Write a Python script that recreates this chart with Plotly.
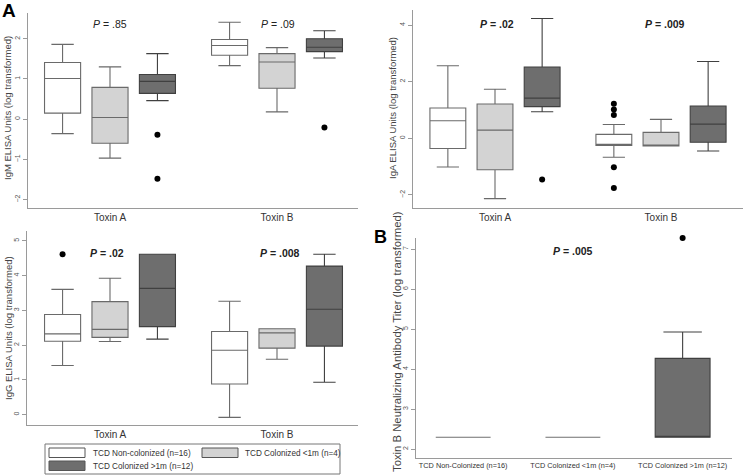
import plotly.graph_objects as go

W, H = 745, 476

# ---------------- data ----------------
toxins = ["Toxin A", "Toxin B"]
groups = ["TCD Non-colonized (n=16)", "TCD Colonized <1m (n=4)", "TCD Colonized >1m (n=12)"]
nab_groups = ["TCD Non-Colonized (n=16)", "TCD Colonized <1m (n=4)", "TCD Colonized >1m (n=12)"]

# IgM (per group: [Toxin A, Toxin B])
igm_lo = [[-0.36, 1.33], [-0.97, 0.18], [0.46, 1.52]]
igm_q1 = [[0.15, 1.59], [-0.60, 0.77], [0.64, 1.68]]
igm_med = [[1.01, 1.83], [0.04, 1.42], [0.94, 1.79]]
igm_q3 = [[1.41, 1.98], [0.79, 1.63], [1.11, 2.00]]
igm_hi = [[1.86, 2.41], [1.30, 1.78], [1.63, 2.20]]
igm_out = [[[], []], [[], []], [[-0.39, -1.48], [-0.21]]]

# IgA
iga_lo = [[-1.01, -0.67], [-2.13, -0.27], [0.94, -0.45]]
iga_q1 = [[-0.36, -0.25], [-1.11, -0.27], [1.12, -0.14]]
iga_med = [[0.62, -0.25], [0.29, -0.26], [1.42, 0.50]]
iga_q3 = [[1.07, 0.14], [1.21, 0.21], [2.52, 1.14]]
iga_hi = [[2.56, 0.49], [1.73, 0.67], [4.23, 2.71]]
iga_out = [[[], [1.22, 1.02, 0.82, -1.02, -1.75]], [[], []], [[-1.45], []]]

# IgG
igg_lo = [[1.41, -0.08], [2.10, 1.59], [2.17, 0.93]]
igg_q1 = [[2.11, 0.88], [2.22, 1.91], [2.53, 1.97]]
igg_med = [[2.32, 1.85], [2.45, 2.35], [3.63, 3.03]]
igg_q3 = [[2.88, 2.39], [3.25, 2.47], [4.61, 4.27]]
igg_hi = [[3.60, 3.26], [3.92, 2.47], [4.61, 4.61]]
igg_out = [[[4.61], []], [[], []], [[], []]]

# Toxin B neutralizing antibody titer (per group)
nab_lo = [2.30, 2.30, 2.30]
nab_q1 = [2.30, 2.30, 2.30]
nab_med = [2.30, 2.30, 2.30]
nab_q3 = [2.30, 2.30, 4.27]
nab_hi = [2.30, 2.30, 4.93]
nab_out = [[], [], [7.28]]

p_igm = ["<i>P</i> = .85", "<i>P</i> = .09"]
p_iga = ["<b><i>P</i> = .02</b>", "<b><i>P</i> = .009</b>"]
p_igg = ["<b><i>P</i> = .02</b>", "<b><i>P</i> = .008</b>"]
p_nab = "<b><i>P</i> = .005</b>"

# ---------------- styles ----------------
FONT = "Liberation Sans, Arial, sans-serif"
fills = ["#ffffff", "#d3d3d3", "#6e6e6e"]
lines = ["#6a6a6a", "#6a6a6a", "#404040"]
AX = "#9a9a9a"


def px(x):
    return x / W


def py(y):
    return 1 - y / H


fig = go.Figure()

offsets = [-0.284, 0.0, 0.284]


def add_panel(xa, ya, lo, q1, med, q3, hi, outs):
    for g in range(3):
        xs = [i + offsets[g] for i in range(len(toxins))]
        fig.add_trace(go.Box(
            x=xs, lowerfence=lo[g], q1=q1[g], median=med[g], q3=q3[g], upperfence=hi[g],
            width=0.216, whiskerwidth=0.62, fillcolor=fills[g],
            line=dict(color=lines[g], width=1.1), boxpoints=False,
            xaxis=xa, yaxis=ya, showlegend=False, hoverinfo="skip"))
        ox, oy = [], []
        for i in range(len(toxins)):
            for v in outs[g][i]:
                ox.append(i + offsets[g])
                oy.append(v)
        if oy:
            fig.add_trace(go.Scatter(x=ox, y=oy, mode="markers",
                                     marker=dict(color="black", size=6),
                                     xaxis=xa, yaxis=ya, showlegend=False,
                                     cliponaxis=False))


add_panel("x", "y", igm_lo, igm_q1, igm_med, igm_q3, igm_hi, igm_out)
add_panel("x2", "y2", iga_lo, iga_q1, iga_med, iga_q3, iga_hi, iga_out)
add_panel("x3", "y3", igg_lo, igg_q1, igg_med, igg_q3, igg_hi, igg_out)

# neutralizing panel
for g in range(3):
    fig.add_trace(go.Box(
        x=[g], lowerfence=[nab_lo[g]], q1=[nab_q1[g]], median=[nab_med[g]], q3=[nab_q3[g]],
        upperfence=[nab_hi[g]], width=0.5, whiskerwidth=0.7, fillcolor=fills[g],
        line=dict(color="#707070" if g < 2 else "#404040", width=1.1), boxpoints=False,
        xaxis="x4", yaxis="y4", showlegend=False, hoverinfo="skip"))
    if nab_out[g]:
        fig.add_trace(go.Scatter(x=[g] * len(nab_out[g]), y=nab_out[g], mode="markers",
                                 marker=dict(color="black", size=6),
                                 xaxis="x4", yaxis="y4", showlegend=False, cliponaxis=False))


def yaxis(dom, rng, tickvals):
    return dict(domain=dom, range=rng, tickvals=tickvals, tickangle=-90,
                ticks="outside", ticklen=4, tickcolor=AX, showline=True, linecolor=AX,
                linewidth=1, showgrid=False, zeroline=False,
                tickfont=dict(family=FONT, size=7, color="#555"))


def xaxis(dom, rng, anchor, vals, texts, size):
    return dict(domain=dom, range=rng, anchor=anchor, tickvals=vals, ticktext=texts,
                ticks="", showline=True, linecolor=AX, linewidth=1, showgrid=False,
                zeroline=False, tickfont=dict(family=FONT, size=size, color="#333"))


fig.update_layout(
    width=W, height=H, margin=dict(l=0, r=0, t=0, b=0),
    paper_bgcolor="white", plot_bgcolor="white",
    font=dict(family=FONT),
    xaxis=xaxis([px(28), px(358)], [-0.491, 1.485], "y", [0, 1], toxins, 10),
    yaxis=yaxis([py(208), py(13)], [-2.21, 2.64], [-2, -1, 0, 1, 2]),
    xaxis2=xaxis([px(413), px(743)], [-0.494, 1.494], "y2", [0, 1], toxins, 10),
    yaxis2=dict(yaxis([py(208), py(10)], [-2.46, 4.53], [-2, 0, 2, 4]), anchor="x2"),
    xaxis3=xaxis([px(27), px(358)], [-0.497, 1.485], "y3", [0, 1], toxins, 10),
    yaxis3=dict(yaxis([py(425), py(231)], [-0.30, 5.28], [0, 1, 2, 3, 4, 5]), anchor="x3"),
    xaxis4=xaxis([px(416), px(732)], [-0.43, 2.45], "y4", [0, 1, 2], nab_groups, 7.3),
    yaxis4=dict(yaxis([py(458), py(238)], [1.78, 7.28], [2, 3, 4, 5, 6, 7]), anchor="x4"),
)
fig.layout.yaxis.anchor = "x"

ann = []


def text(x, y, t, size, color="#222", angle=0, xanchor="center"):
    ann.append(dict(x=px(x), y=py(y), xref="paper", yref="paper", text=t, showarrow=False,
                    textangle=angle, xanchor=xanchor, yanchor="middle",
                    font=dict(family=FONT, size=size, color=color)))


# panel letters
text(9, 10, "<b>A</b>", 19, "#000")
text(380, 237, "<b>B</b>", 18, "#000")

# axis titles
text(8, 108, "IgM ELISA Units (log transformed)", 9.5, "#444", -90)
text(393, 108, "IgA ELISA Units (log transformed)", 9.5, "#444", -90)
text(8, 328, "IgG ELISA Units (log transformed)", 9.5, "#444", -90)
text(397, 342, "Toxin B Neutralizing Antibody Titer (log transformed)", 11.3, "#444", -90)

# P values
text(110, 24, p_igm[0], 10.5)
text(278, 24, p_igm[1], 10.5)
text(497, 24, p_iga[0], 10.5)
text(665, 24, p_iga[1], 10.5)
text(107, 253, p_igg[0], 10.5)
text(280, 253, p_igg[1], 10.5)
text(573, 251, p_nab, 10.5)

# legend
shapes = [dict(type="rect", xref="paper", yref="paper", x0=px(45), x1=px(340), y0=py(474), y1=py(444),
               line=dict(color="#777", width=1), fillcolor="rgba(0,0,0,0)")]
leg_pos = [(49, 448, 91), (202, 448, 243), (49, 461, 91)]
for g, (x0, y0, tx) in enumerate(leg_pos):
    shapes.append(dict(type="rect", xref="paper", yref="paper", x0=px(x0), x1=px(x0 + 36),
                       y0=py(y0 + 9.5), y1=py(y0), fillcolor=fills[g],
                       line=dict(color="#555", width=1)))
    text(tx, y0 + 5, groups[g], 8.2, "#333", 0, "left")

fig.update_layout(annotations=ann, shapes=shapes)
fig.write_html("out.html", config={"displayModeBar": False},
               post_script="document.body.style.margin='0';document.body.style.padding='0';")
